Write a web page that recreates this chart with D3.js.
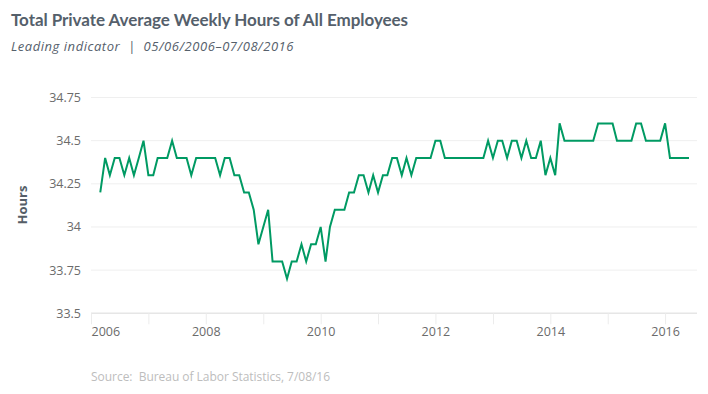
<!DOCTYPE html>
<html>
<head>
<meta charset="utf-8">
<script src="https://cdn.jsdelivr.net/npm/d3@7"></script>
<style>
  body { margin: 0; background: #fff; }
  text { font-family: "Open Sans", "Noto Sans", sans-serif; }
</style>
</head>
<body>
<script>
// monthly series, first value is March 2006
var startYear = 2006, startMonth = 2;
var values = [
  34.2, 34.4, 34.3, 34.4, 34.4, 34.3, 34.4, 34.3, 34.4, 34.5,
  34.3, 34.3, 34.4, 34.4, 34.4, 34.5, 34.4, 34.4, 34.4, 34.3, 34.4, 34.4,
  34.4, 34.4, 34.4, 34.3, 34.4, 34.4, 34.3, 34.3, 34.2, 34.2, 34.1, 33.9,
  34.0, 34.1, 33.8, 33.8, 33.8, 33.7, 33.8, 33.8, 33.9, 33.8, 33.9, 33.9,
  34.0, 33.8, 34.0, 34.1, 34.1, 34.1, 34.2, 34.2, 34.3, 34.3, 34.2, 34.3,
  34.2, 34.3, 34.3, 34.4, 34.4, 34.3, 34.4, 34.3, 34.4, 34.4, 34.4, 34.4,
  34.5, 34.5, 34.4, 34.4, 34.4, 34.4, 34.4, 34.4, 34.4, 34.4, 34.4, 34.5,
  34.4, 34.5, 34.5, 34.4, 34.5, 34.5, 34.4, 34.5, 34.4, 34.4, 34.5, 34.3,
  34.4, 34.3, 34.6, 34.5, 34.5, 34.5, 34.5, 34.5, 34.5, 34.5, 34.6, 34.6,
  34.6, 34.6, 34.5, 34.5, 34.5, 34.5, 34.6, 34.6, 34.5, 34.5, 34.5, 34.5,
  34.6, 34.4, 34.4, 34.4, 34.4, 34.4
];
var yTicks = [33.5, 33.75, 34, 34.25, 34.5, 34.75];
var yearTicks = [2006, 2007, 2008, 2009, 2010, 2011, 2012, 2013, 2014, 2015, 2016];

var W = 708, H = 394;
var plot = { left: 91, right: 697, top: 97.5, bottom: 313.3 };

var data = values.map(function (v, i) {
  return { date: new Date(startYear, startMonth + i, 1), value: v };
});

var svg = d3.select("body").append("svg")
  .attr("width", W)
  .attr("height", H);

var x = d3.scaleTime()
  .domain([new Date(2006, 0, 1), new Date(2016, 6, 22)])
  .range([plot.left, plot.right]);

var y = d3.scaleLinear()
  .domain([33.5, 34.75])
  .range([plot.bottom, plot.top]);

// horizontal grid
svg.append("g").selectAll("line")
  .data(yTicks)
  .enter().append("line")
  .attr("x1", plot.left)
  .attr("x2", plot.right)
  .attr("y1", function (d) { return y(d); })
  .attr("y2", function (d) { return y(d); })
  .attr("stroke", function (d) { return d === 33.5 ? "#e6e6e6" : "#efefef"; })
  .attr("stroke-width", function (d) { return d === 33.5 ? 1.5 : 1; });

// y labels
svg.append("g").selectAll("text")
  .data(yTicks)
  .enter().append("text")
  .attr("x", 81)
  .attr("y", function (d) { return y(d); })
  .attr("dy", "0.35em")
  .attr("text-anchor", "end")
  .attr("fill", "#6b6b6b")
  .style("font-size", "12.5px")
  .text(function (d) { return d3.format("")(d); });

// x axis ticks
var xAxis = d3.axisBottom(x)
  .tickValues(yearTicks.map(function (yr) { return new Date(yr, 0, 1); }))
  .tickSize(11)
  .tickSizeOuter(0)
  .tickFormat(function (d) { return d.getFullYear() % 2 === 0 ? d.getFullYear() : ""; });

var gx = svg.append("g")
  .attr("transform", "translate(0," + plot.bottom + ")")
  .call(xAxis);
gx.select(".domain").remove();
gx.selectAll(".tick line").attr("stroke", "#ececec");
gx.selectAll(".tick text")
  .attr("fill", "#6b6b6b")
  .attr("y", 14)
  .style("font-size", "12.5px")
  .style("font-family", "'Open Sans', sans-serif");
gx.selectAll(".tick text").filter(function (d, i) { return i === 0; })
  .attr("text-anchor", "start");

// y axis title
svg.append("text")
  .attr("transform", "translate(27,205) rotate(-90)")
  .attr("text-anchor", "middle")
  .attr("fill", "#555e68")
  .style("font-size", "13px")
  .style("font-weight", "700")
  .text("Hours");

// line
var line = d3.line()
  .x(function (d) { return x(d.date); })
  .y(function (d) { return y(d.value); });

svg.append("path")
  .datum(data)
  .attr("d", line)
  .attr("fill", "none")
  .attr("stroke", "#009a63")
  .attr("stroke-width", 2)
  .attr("stroke-linejoin", "miter");

// texts, squeezed to match reference widths
function fitText(sel, target) {
  var n = sel.text().length;
  var len = sel.node().getComputedTextLength();
  sel.style("letter-spacing", ((target - len) / n) + "px");
}

var title = svg.append("text")
  .attr("x", 11)
  .attr("y", 26)
  .attr("fill", "#55606b")
  .style("font-family", "Lato, 'Open Sans', sans-serif")
  .style("font-size", "17px")
  .style("font-weight", "700")
  .text("Total Private Average Weekly Hours of All Employees");
fitText(title, 397);

var sub = svg.append("text")
  .attr("x", 11)
  .attr("y", 51)
  .attr("fill", "#55606b")
  .style("font-size", "13px")
  .style("font-style", "italic")
  .text("Leading indicator  |  05/06/2006\u201307/08/2016");
sub.attr("xml:space", "preserve");
fitText(sub, 283);

var src = svg.append("text")
  .attr("x", 91)
  .attr("y", 381)
  .attr("fill", "#bdbdbd")
  .style("font-size", "12px")
  .attr("xml:space", "preserve")
  .text("Source:  Bureau of Labor Statistics, 7/08/16");
fitText(src, 239);
</script>
</body>
</html>
